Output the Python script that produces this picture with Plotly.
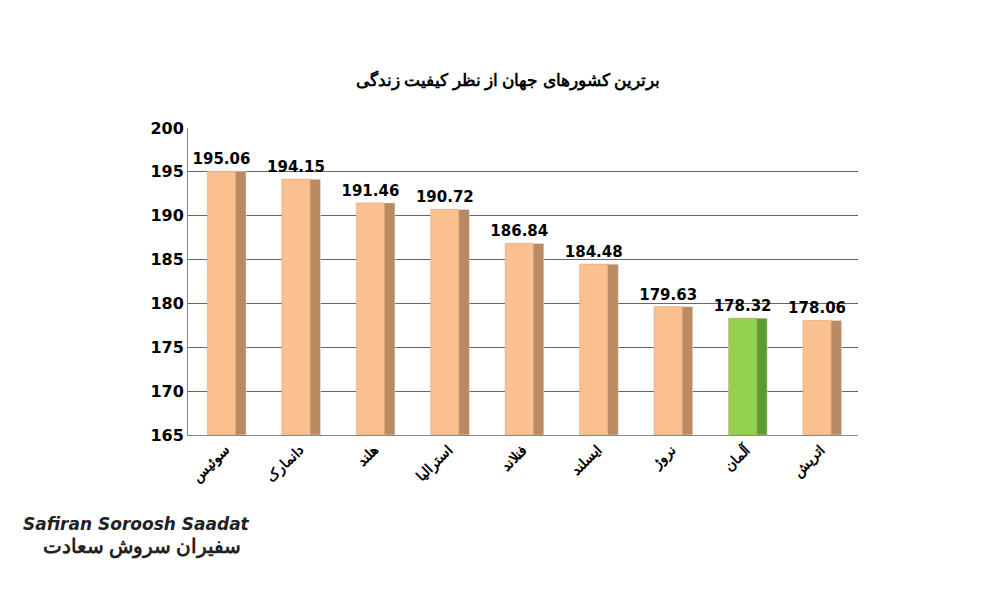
import plotly.graph_objects as go

countries = ["سوئیس", "دانمارک", "هلند", "استرالیا", "فنلاند", "ایسلند", "نروژ", "آلمان", "اتریش"]
values = [195.06, 194.15, 191.46, 190.72, 186.84, 184.48, 179.63, 178.32, 178.06]
colors = ["#FAC090"] * 7 + ["#92D050"] + ["#FAC090"]
side_colors = ["#B98A63"] * 7 + ["#5E9A2C"] + ["#B98A63"]

fig = go.Figure()
fig.add_trace(go.Bar(x=countries, y=[v - 165 for v in values], base=165, marker_color=side_colors,
                     width=0.5, offset=-0.22, hoverinfo="skip", showlegend=False))
fig.add_trace(go.Bar(x=countries, y=[v - 165 for v in values], base=165, marker_color=colors,
                     marker_line=dict(color="#E0A070", width=0.5),
                     width=0.38, offset=-0.24, showlegend=False,
                     text=[f"<b>{v:.2f}</b>" for v in values], textposition="outside",
                     constraintext="none",
                     textfont=dict(family="DejaVu Sans", size=15, color="black"), cliponaxis=False))
fig.update_layout(
    width=1000, height=600, barmode="overlay",
    paper_bgcolor="white", plot_bgcolor="white",
    margin=dict(l=180, r=150, t=120, b=173),
    title=dict(text="<b>برترین کشورهای جهان از نظر کیفیت زندگی</b>", x=0.5, y=0.89, xanchor="center",
               font=dict(family="Noto Sans", size=17, color="black")),
    font=dict(family="Noto Sans", color="black"),
    uniformtext=dict(minsize=15, mode="show"),
)
fig.update_xaxes(tickangle=-45, tickfont=dict(size=14, family="Noto Sans"), showline=True,
                 linecolor="#888", tickprefix="<b>", ticksuffix="</b>")
fig.update_yaxes(range=[165, 200], dtick=5, showgrid=True, gridcolor="#666", gridwidth=1,
                 tickfont=dict(size=16, family="DejaVu Sans"), showline=True, linecolor="#888",
                 ticks="", tickprefix="<b>", ticksuffix="</b>")
fig.add_annotation(text="<b><i>Safiran Soroosh Saadat</i></b>", xref="paper", yref="paper",
                   x=-0.25, y=-0.33, xanchor="left", showarrow=False,
                   font=dict(size=17, family="DejaVu Sans", color="#222"))
fig.add_annotation(text="<b>سفیران سروش سعادت</b>", xref="paper", yref="paper",
                   x=-0.22, y=-0.41, xanchor="left", showarrow=False,
                   font=dict(size=20, family="Noto Sans", color="#222"))
fig.write_html("out.html")
